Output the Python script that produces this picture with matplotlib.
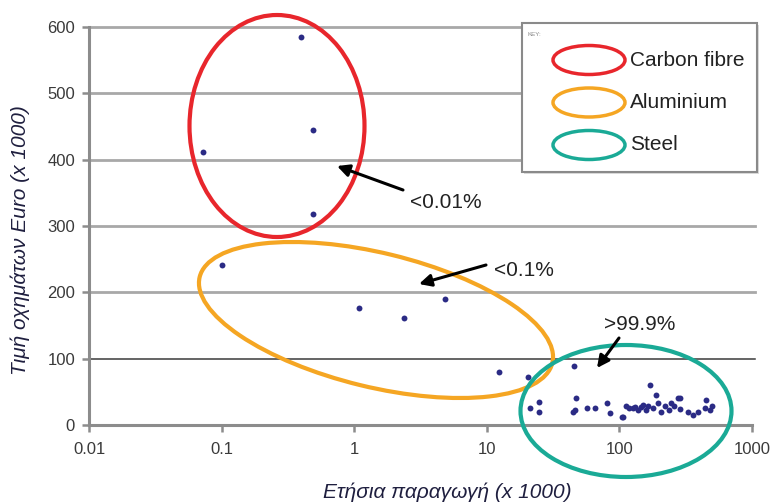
import matplotlib
matplotlib.use("Agg")
import matplotlib.pyplot as plt
from matplotlib.patches import Ellipse, Rectangle

plt.rcParams['font.family'] = ['Liberation Sans', 'DejaVu Sans']

# ---- data (annual production x1000, vehicle price Euro x1000) ----
carbon_x = [0.072, 0.40, 0.49, 0.49]
carbon_y = [411, 585, 445, 318]

alu_x = [0.1, 1.09, 2.38, 4.8, 12.3, 20.3, 45.6]
alu_y = [241, 176, 161, 190, 80, 73, 89]

steel_x = [21, 24.6, 24.6, 46.7, 46, 45, 56.5, 66, 80, 85, 104, 107, 112, 118, 127,
           132, 138, 146, 150, 158, 165, 171, 180, 190, 196, 207, 222, 235, 246,
           260, 278, 288, 288, 330, 360, 392, 444, 451, 483, 500]
steel_y = [26, 35, 20, 41, 23, 20, 26, 26, 33, 18, 12, 12, 28, 25, 26,
           27, 22, 27, 30, 23, 28, 60, 25, 45, 33, 20, 29, 22, 33,
           28, 41, 41, 24, 20, 15, 20, 26, 38, 23, 28]

y_ticks = [0, 100, 200, 300, 400, 500, 600]
x_ticks = [0.01, 0.1, 1, 10, 100, 1000]
x_ticklabels = ['0.01', '0.1', '1', '10', '100', '1000']

legend_labels = ['Carbon fibre', 'Aluminium', 'Steel']
legend_colors = ['#e8262c', '#f5a623', '#1aaa96']

annotations = ['<0.01%', '<0.1%', '>99.9%']

ylabel = 'Τιμή οχημάτων Euro (x 1000)'
xlabel = 'Ετήσια παραγωγή (x 1000)'

W, H = 770, 504
fig = plt.figure(figsize=(W / 100, H / 100), dpi=100)

def fx(px):
    return px / W

def fy(py):
    return 1 - py / H

ax = fig.add_axes([fx(89), fy(425), (752 - 89) / W, (425 - 27) / H])
ax.set_xscale('log')
ax.set_xlim(0.01, 1000)
ax.set_ylim(0, 600)

for v in y_ticks[1:]:
    if v == 100:
        ax.axhline(v, color='#3a3a3a', lw=1.1, zorder=1, xmax=1.005, clip_on=False)
    else:
        ax.axhline(v, color='#a8a8a8', lw=2.0, zorder=1, xmax=1.005, clip_on=False)

ax.set_yticks(y_ticks)
ax.set_xticks(x_ticks)
ax.set_xticklabels(x_ticklabels)
ax.minorticks_off()
for s in ['top', 'right']:
    ax.spines[s].set_visible(False)
for s in ['left', 'bottom']:
    ax.spines[s].set_color('#8c8c8c')
    ax.spines[s].set_linewidth(2.2)
ax.tick_params(axis='both', direction='out', length=5, width=1.8, color='#8c8c8c',
               labelsize=12, labelcolor='#3a3a3a')
ax.tick_params(axis='x', pad=7)
ax.tick_params(axis='y', pad=5)

allx = carbon_x + alu_x + steel_x
ally = carbon_y + alu_y + steel_y
ax.scatter(allx, ally, s=18, color='#2b2b85', marker='o', linewidths=0, zorder=3)

# overlay in pixel coordinates for ellipses, arrows and key
ov = fig.add_axes([0, 0, 1, 1], facecolor='none')
ov.set_xlim(0, W)
ov.set_ylim(H, 0)
ov.axis('off')

ov.add_patch(Ellipse((277, 126), 175, 222, fill=False, ec=legend_colors[0], lw=3, zorder=4))
ov.add_patch(Ellipse((376, 320), 363, 134, angle=13.7, fill=False, ec=legend_colors[1], lw=3, zorder=4))
ov.add_patch(Ellipse((626, 411), 211, 132, fill=False, ec=legend_colors[2], lw=3, zorder=4))

ap = dict(arrowstyle='-|>', color='black', lw=2.2, mutation_scale=18, shrinkA=0, shrinkB=0)
ov.annotate('', xy=(337, 166), xytext=(403, 190), arrowprops=ap, zorder=6)
ov.annotate('', xy=(419, 284), xytext=(486, 265), arrowprops=ap, zorder=6)
ov.annotate('', xy=(597, 368), xytext=(619, 338), arrowprops=ap, zorder=6)
ov.text(410, 202, annotations[0], fontsize=15, color='#222222', va='center', ha='left', zorder=6)
ov.text(494, 271, annotations[1], fontsize=15, color='#222222', va='center', ha='left', zorder=6)
ov.text(604, 325, annotations[2], fontsize=15, color='#222222', va='center', ha='left', zorder=6)

# key box
ov.add_patch(Rectangle((524, 25), 235, 149, fc='#dcdcdc', ec='none', zorder=7))
ov.add_patch(Rectangle((522, 23), 235, 149, fc='white', ec='#8a8a8a', lw=1.5, zorder=8))
ov.text(528, 34, 'KEY:', fontsize=4.5, color='#888888', va='center', ha='left', zorder=9)
for i, (lab, col) in enumerate(zip(legend_labels, legend_colors)):
    cy = 60 + i * 42.5
    ov.add_patch(Ellipse((589, cy), 72, 29, fill=False, ec=col, lw=2.5, zorder=9))
    ov.text(630, cy, lab, fontsize=15, color='#222222', va='center', ha='left', zorder=9)

fig.text(fx(20), fy(240), ylabel, rotation=90, fontsize=15, fontstyle='italic',
         color='#1f1f3f', ha='center', va='center')
fig.text(fx(447), fy(492), xlabel, fontsize=15, fontstyle='italic',
         color='#1f1f3f', ha='center', va='center')

fig.savefig('out.png', dpi=100)
